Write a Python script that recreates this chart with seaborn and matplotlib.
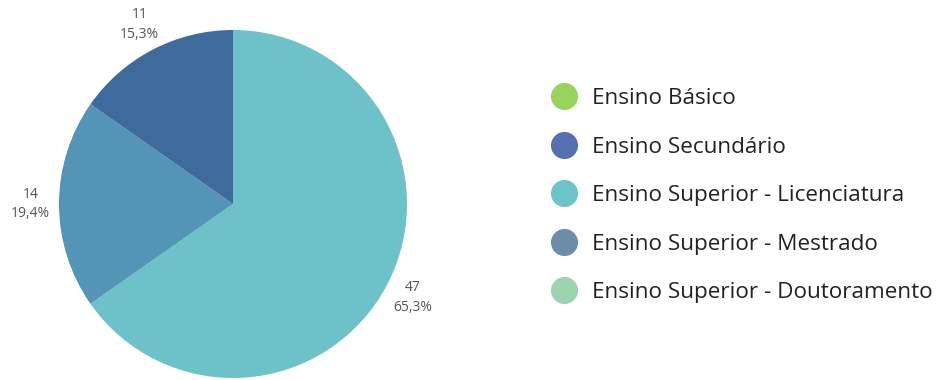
import matplotlib
matplotlib.use("Agg")
import matplotlib.pyplot as plt
from matplotlib.lines import Line2D
import seaborn as sns

# Education levels, counts and colours
categories = ["Ensino Básico", "Ensino Secundário", "Ensino Superior - Licenciatura",
              "Ensino Superior - Mestrado", "Ensino Superior - Doutoramento"]
counts = [0, 11, 47, 14, 0]
legend_colors = ["#98d35d", "#5470b0", "#6cc3c9", "#6a8ea8", "#9dd4b0"]
slice_colors = ["#98d35d", "#3e6a9c", "#6cc2c8", "#5494b6", "#9dd4b0"]

# clockwise drawing order from the top of the pie
draw_order = [2, 3, 1]

sns.set_theme(style="white")
plt.rcParams["font.family"] = ["Open Sans", "DejaVu Sans"]

W, H, DPI = 938, 380, 100
fig = plt.figure(figsize=(W / DPI, H / DPI), dpi=DPI)

cx, cy, r = 233, 204, 174
half = 1.25 * r
ax = fig.add_axes([(cx - half) / W, (H - cy - half) / H, 2 * half / W, 2 * half / H])

vals = [counts[i] for i in draw_order]
cols = [slice_colors[i] for i in draw_order]
total = sum(counts)
labels = [f"{v}\n{100 * v / total:.1f}%".replace(".", ",") for v in vals]

wedges, texts = ax.pie(vals, colors=cols, startangle=90, counterclock=False,
                       labels=labels, labeldistance=1.165,
                       wedgeprops=dict(linewidth=0),
                       textprops=dict(fontsize=10, color="#555555", linespacing=1.45))
for t in texts:
    t.set_horizontalalignment("center")
    t.set_verticalalignment("center")
ax.set_xlim(-1.25, 1.25)
ax.set_ylim(-1.25, 1.25)
ax.set_aspect("equal")

fs = 16.2
handles = [Line2D([0], [0], marker="o", linestyle="", markersize=19.5,
                  markerfacecolor=c, markeredgewidth=0) for c in legend_colors]
leg = fig.legend(handles, categories, loc="upper left",
                 bbox_to_anchor=(539.5 / W, 1 - 77 / H), frameon=False,
                 fontsize=fs, labelspacing=1.22, handletextpad=0.64,
                 handlelength=1.2, borderpad=0)
for t in leg.get_texts():
    t.set_color("#222222")

fig.savefig("out.png", dpi=DPI)
